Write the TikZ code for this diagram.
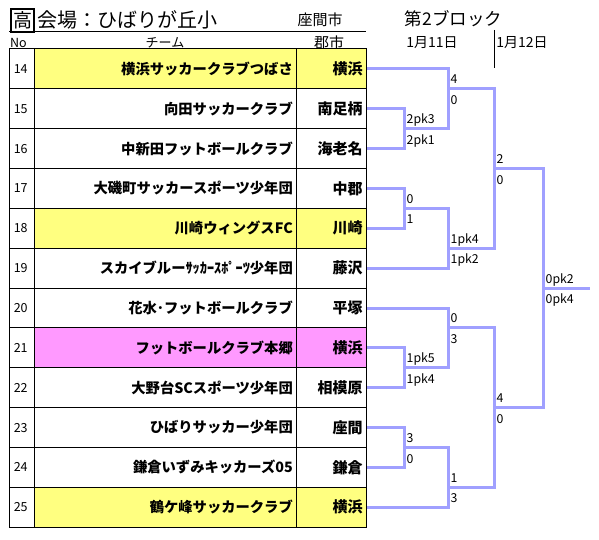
\documentclass[tikz,border=0pt]{standalone}
\usepackage{fontspec}
\setmainfont{Noto Sans CJK JP}
\usetikzlibrary{calc}
\definecolor{rowyellow}{RGB}{255,255,128}
\definecolor{rowpink}{RGB}{255,153,255}
\definecolor{brblue}{RGB}{160,160,255}
\begin{document}
\begin{tikzpicture}[x=1pt,y=-1pt,
  cell/.style={draw=black, line width=1pt, minimum height=39.85pt, inner ysep=0pt, inner xsep=4pt, anchor=west},
  nocell/.style={cell, text width=17pt, align=left, font=\fontsize{12.5}{13}\selectfont},
  teamcell/.style={cell, text width=254pt, align=right, font=\bfseries\fontsize{14.3}{15}\selectfont},
  citycell/.style={cell, text width=61.7pt, align=right, font=\bfseries\fontsize{15}{16}\selectfont},
  br/.style={draw=brblue, line width=3pt},
  score/.style={anchor=base west, inner sep=0pt, font=\fontsize{12.3}{13}\selectfont},
  head/.style={inner sep=0pt},
]
\useasboundingbox (0,0) rectangle (599,540);

% header
\node[draw, line width=1.2pt, minimum size=23pt, inner sep=0pt, font=\fontsize{19}{20}\selectfont] (kou) at (22.5,20.5) {高};
\node[head, anchor=west, font=\fontsize{20}{21}\selectfont] (venue) at (37,20) {会場：ひばりが丘小};
\node[head, font=\fontsize{15}{16}\selectfont] (host) at (320,20) {座間市};
\coordinate (hl1) at (9.3,32);
\coordinate (hl2) at (366,32);
\draw[line width=1pt] (hl1) -- (hl2);
\node[head, anchor=west, font=\fontsize{12.5}{13}\selectfont] (nohead) at (10,43) {No};
\node[head, font=\fontsize{13}{14}\selectfont] (teamhead) at (165,43) {チーム};
\node[head, font=\fontsize{15}{16}\selectfont] (cityhead) at (329,43) {郡市};
\node[head, font=\fontsize{17.5}{18}\selectfont] (block) at (453.5,19) {第2ブロック};
\node[head, font=\fontsize{14}{15}\selectfont] (day1) at (432,43) {1月11日};
\node[head, font=\fontsize{14}{15}\selectfont] (day2) at (522,43) {1月12日};
\coordinate (dv1) at (494,30);
\coordinate (dv2) at (494,68);
\draw[line width=1pt] (dv1) -- (dv2);

% table
\foreach \n/\team/\city/\col [count=\i from 0] in {
 14/横浜サッカークラブつばさ/横浜/rowyellow,
 15/向田サッカークラブ/南足柄/white,
 16/中新田フットボールクラブ/海老名/white,
 17/大磯町サッカースポーツ少年団/中郡/white,
 18/川崎ウィングスFC/川崎/rowyellow,
 19/スカイブルーｻｯｶｰｽﾎﾟｰﾂ少年団/藤沢/white,
 20/花水･フットボールクラブ/平塚/white,
 21/フットボールクラブ本郷/横浜/rowpink,
 22/大野台SCスポーツ少年団/相模原/white,
 23/ひばりサッカー少年団/座間/white,
 24/鎌倉いずみキッカーズ05/鎌倉/white,
 25/鶴ケ峰サッカークラブ/横浜/rowyellow}{
  \pgfmathsetmacro\yy{49+39.85*(\i+0.5)}
  \node[nocell] (n\n) at (9.3,\yy) {\n};
  \node[teamcell, fill=\col] (t\n) at (34.3,\yy) {\team};
  \node[citycell, fill=\col] (c\n) at (296.3,\yy) {\city};
}

% joints
\coordinate (j15) at (404,128.7);
\coordinate (j17) at (404,208.4);
\coordinate (j21) at (404,367.8);
\coordinate (j23) at (404,447.5);
\coordinate (ja) at (448,88.85);
\coordinate (jb) at (448,248.25);
\coordinate (jc) at (448,327.95);
\coordinate (jd) at (448,487.35);
\coordinate (je) at (494,168.55);
\coordinate (jf) at (494,407.65);
\coordinate (jg) at (543,288.1);
\coordinate (win) at (590,288.1);

\draw[br] (c15.east) -| (j15) |- (c16.east);
\draw[br] (c17.east) -| (j17) |- (c18.east);
\draw[br] (c21.east) -| (j21) |- (c22.east);
\draw[br] (c23.east) -| (j23) |- (c24.east);
\draw[br] (c14.east) -| (ja) |- (j15);
\draw[br] (j17) -| (jb) |- (c19.east);
\draw[br] (c20.east) -| (jc) |- (j21);
\draw[br] (j23) -| (jd) |- (c25.east);
\draw[br] (ja) -| (je) |- (jb);
\draw[br] (jc) -| (jf) |- (jd);
\draw[br] (je) -| (jg) |- (jf);
\draw[br] (jg) -- (win);

% scores
\foreach \j/\a/\b in {j15/2pk3/2pk1, j17/0/1, j21/1pk5/1pk4, j23/3/0,
  ja/4/0, jb/1pk4/1pk2, jc/0/3, jd/1/3, je/2/0, jf/4/0, jg/0pk2/0pk4}{
  \node[score] (\j top) at ($(\j)+(2.5,-5)$) {\a};
  \node[score] (\j bot) at ($(\j)+(2.5,15.5)$) {\b};
}
\end{tikzpicture}
\end{document}
